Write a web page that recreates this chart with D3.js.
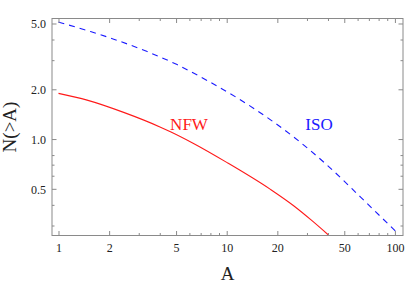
<!DOCTYPE html>
<html><head><meta charset="utf-8">
<script src="https://cdn.jsdelivr.net/npm/d3@7"></script>
<style>body{margin:0;background:#fff}svg{display:block}
svg text{font-family:"Liberation Serif","Times New Roman",serif !important;}</style>
</head><body>
<svg id="c" width="407" height="283"></svg>
<script>
const nfwA = [1.0, 1.48, 2.44, 4.04, 4.63, 6.23, 10.06, 18.2, 25.0, 32.0, 40.4];
const nfwN = [1.89, 1.72, 1.45, 1.18, 1.107, 0.95, 0.72, 0.496, 0.395, 0.322, 0.262];
const isoA = [1.0, 1.55, 2.13, 3.37, 5.07, 7.65, 11.8, 14.8, 25.0, 39.5, 62.3, 100.5];
const isoN = [5.10, 4.47, 4.02, 3.38, 2.82, 2.26, 1.75, 1.51, 1.03, 0.696, 0.447, 0.278];
const xMajor = [1, 2, 5, 10, 20, 50, 100];
const xMinor = [3, 4, 6, 7, 8, 9, 30, 40, 60, 70, 80, 90];
const yMajor = [0.5, 1.0, 2.0, 5.0];
const yMinor = [0.3, 0.4, 0.6, 0.7, 0.8, 3, 4];
const seriesLabels = ["NFW", "ISO"];

const svg = d3.select("#c");
const L = 52, R = 403, T = 18.5, B = 235.5;
const x = d3.scaleLog().domain([0.915, 111.7]).range([L, R]);
const y = d3.scaleLog().domain([0.261, 5.36]).range([B, T]);
const gray = "#8a8a8a";
const font = "Liberation Serif";

svg.append("defs").append("clipPath").attr("id","clip")
  .append("rect").attr("x",L).attr("y",T).attr("width",R-L).attr("height",B-T);

const line = d3.line().x(d=>x(d[0])).y(d=>y(d[1])).curve(d3.curveMonotoneX);
svg.append("path").datum(nfwA.map((a,i)=>[a,nfwN[i]]))
  .attr("d",line).attr("fill","none").attr("stroke","#ff1a1a").attr("stroke-width",1.1)
  .attr("clip-path","url(#clip)");
svg.append("path").datum(isoA.map((a,i)=>[a,isoN[i]]))
  .attr("d",line).attr("fill","none").attr("stroke","#1a1aff").attr("stroke-width",1.1)
  .attr("stroke-dasharray","6,5").attr("clip-path","url(#clip)");

svg.append("rect").attr("x",L).attr("y",T).attr("width",R-L).attr("height",B-T)
  .attr("fill","none").attr("stroke",gray).attr("stroke-width",1);

function fmtX(d){return String(d);}
function fmtY(d){return d.toFixed(1);}
const axB = svg.append("g").attr("transform",`translate(0,${B})`)
  .call(d3.axisBottom(x).tickValues(xMajor).tickSizeInner(-4.5).tickSizeOuter(0).tickFormat(fmtX));
const axBm = svg.append("g").attr("transform",`translate(0,${B})`)
  .call(d3.axisBottom(x).tickValues(xMinor).tickSizeInner(-2.5).tickSizeOuter(0).tickFormat(""));
const axT = svg.append("g").attr("transform",`translate(0,${T})`)
  .call(d3.axisTop(x).tickValues(xMajor).tickSizeInner(-4.5).tickSizeOuter(0).tickFormat(""));
const axTm = svg.append("g").attr("transform",`translate(0,${T})`)
  .call(d3.axisTop(x).tickValues(xMinor).tickSizeInner(-2.5).tickSizeOuter(0).tickFormat(""));
const axL = svg.append("g").attr("transform",`translate(${L},0)`)
  .call(d3.axisLeft(y).tickValues(yMajor).tickSizeInner(-4.5).tickSizeOuter(0).tickFormat(fmtY));
const axLm = svg.append("g").attr("transform",`translate(${L},0)`)
  .call(d3.axisLeft(y).tickValues(yMinor).tickSizeInner(-2.5).tickSizeOuter(0).tickFormat(""));
const axR = svg.append("g").attr("transform",`translate(${R},0)`)
  .call(d3.axisRight(y).tickValues(yMajor).tickSizeInner(-4.5).tickSizeOuter(0).tickFormat(""));
const axRm = svg.append("g").attr("transform",`translate(${R},0)`)
  .call(d3.axisRight(y).tickValues(yMinor).tickSizeInner(-2.5).tickSizeOuter(0).tickFormat(""));

[axB,axBm,axT,axTm,axL,axLm,axR,axRm].forEach(g=>{
  g.attr("font-family",font).attr("font-size",12);
  g.select(".domain").remove();
  g.selectAll(".tick line").attr("stroke",gray).attr("stroke-width",1);
  g.selectAll("text").attr("fill","#222");
});
axB.selectAll(".tick text").attr("y",8).attr("dy","0.71em");
axL.selectAll(".tick text").attr("x",-6).attr("dy","0.35em");

svg.append("text").attr("x",(L+R)/2).attr("y",280).attr("text-anchor","middle")
  .attr("font-family",font).attr("font-size",19).attr("fill","#222").text("A");
svg.append("text").attr("transform",`translate(16,${(T+B)/2}) rotate(-90)`)
  .attr("text-anchor","middle").attr("font-family",font).attr("font-size",19)
  .attr("fill","#222").text("N(>A)");

svg.append("text").attr("x",189).attr("y",130).attr("text-anchor","middle")
  .attr("font-family",font).attr("font-size",17).attr("fill","#ff1a1a").text(seriesLabels[0]);
svg.append("text").attr("x",319).attr("y",129.5).attr("text-anchor","middle")
  .attr("font-family",font).attr("font-size",17).attr("fill","#1a1aff").text(seriesLabels[1]);
</script>
</body></html>
